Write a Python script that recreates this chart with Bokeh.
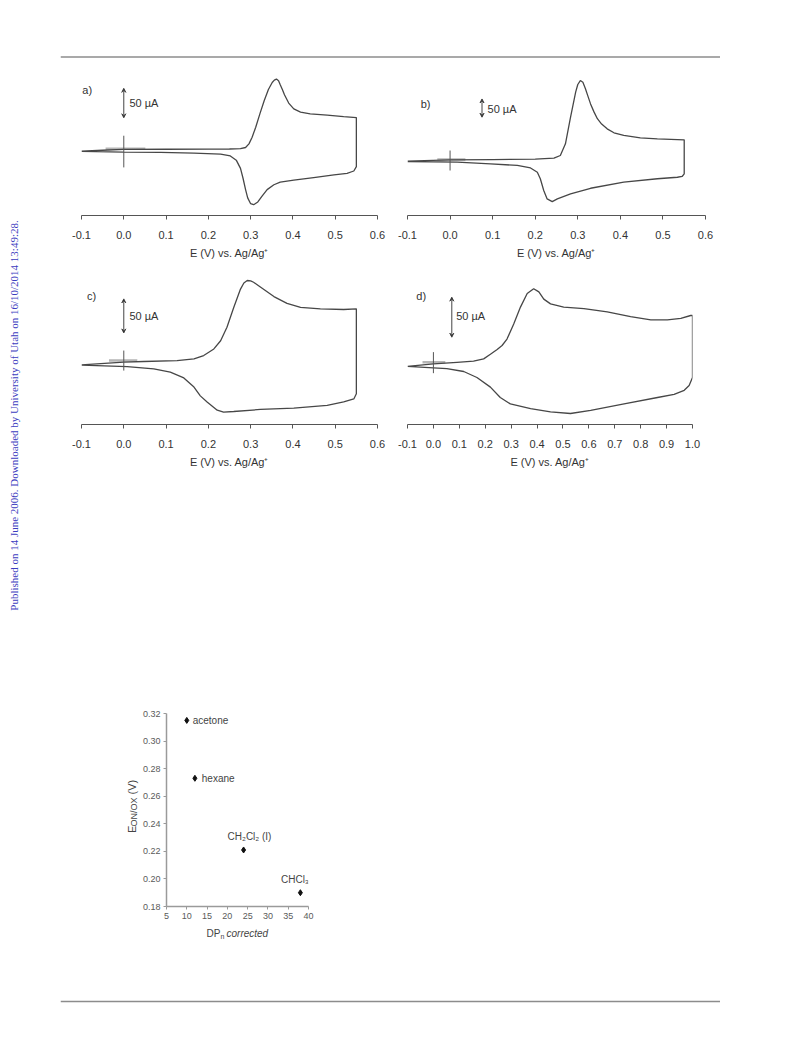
import math
from bokeh.plotting import figure
from bokeh.models import Range1d, FixedTicker, PrintfTickFormatter, Span, Label, Arrow, VeeHead, Spacer
from bokeh.layouts import row, column
from bokeh.embed import file_html
from bokeh.resources import INLINE

# ---------------- data: cyclic voltammograms (E in V vs Ag/Ag+, I in uA) ----------------
a_fwd_E = [-0.10, -0.05, 0.00, 0.10, 0.20, 0.250, 0.276, 0.288, 0.296, 0.3035, 0.312, 0.322, 0.332, 0.342, 0.351, 0.356, 0.361,
           0.366, 0.370, 0.375, 0.380, 0.390, 0.402, 0.418, 0.441, 0.481, 0.520, 0.550]
a_fwd_I = [-0.8, 0.8, 2.2, 2.5, 2.8, 3.0, 3.5, 5.5, 11.7, 22.8, 40, 63, 85, 104, 116, 120, 121.7,
           119, 112, 104, 95, 81, 71, 65.6, 62.8, 60.6, 58, 56.4]
a_rev_E = [0.550, 0.544, 0.528, 0.497, 0.449, 0.402, 0.370, 0.355, 0.339, 0.327, 0.317, 0.307, 0.300, 0.293, 0.288,
           0.282, 0.276, 0.266, 0.252, 0.229, 0.166, 0.087, 0.000, -0.100]
a_rev_I = [-27, -34.4, -38.3, -41, -45.6, -50, -53.3, -57.8, -66, -77, -87, -91.7, -90, -80, -66,
           -46.7, -30, -16, -8.9, -5.6, -3.9, -2.8, -2.2, -1.1]

b_fwd_E = [-0.10, 0.00, 0.10, 0.20, 0.244, 0.259, 0.271, 0.283, 0.295, 0.300, 0.306, 0.312, 0.318, 0.323, 0.330, 0.338,
           0.346, 0.356, 0.369, 0.385, 0.408, 0.447, 0.487, 0.550]
b_fwd_I = [-1.8, 1.75, 2.6, 3.5, 6.1, 13.2, 44, 114, 180, 200, 210.5, 206, 189, 172, 149, 128,
           110, 96, 83.3, 73, 66, 59.6, 57, 54.4]
b_rev_E = [0.550, 0.545, 0.534, 0.487, 0.408, 0.330, 0.283, 0.252, 0.240, 0.228, 0.220, 0.212, 0.205, 0.189, 0.158,
           0.095, 0.017, -0.100]
b_rev_I = [-35, -42, -44, -48, -57, -73, -88, -101, -108, -101, -79, -48, -31, -19.6, -13,
           -8.8, -4.4, -2.6]

c_fwd_E = [-0.10, 0.000, 0.047, 0.126, 0.166, 0.189, 0.213, 0.229, 0.244, 0.260, 0.276, 0.284, 0.292, 0.300, 0.307, 0.323,
           0.355, 0.386, 0.418, 0.465, 0.520, 0.550]
c_fwd_I = [-2.5, 1.5, 2.5, 3.9, 6.4, 11.3, 21, 33, 53, 82, 109, 118, 121.6, 121, 119, 112,
           98, 88, 82, 80, 79, 80]
c_rev_E = [0.550, 0.544, 0.520, 0.481, 0.402, 0.323, 0.260, 0.236, 0.221, 0.197, 0.181, 0.166, 0.142, 0.110, 0.071,
           0.008, -0.100]
c_rev_I = [-45, -52.5, -57, -62, -66, -68, -71, -72, -69, -57, -48, -35, -21.6, -13, -8.3,
           -4.9, -2.9]

d_fwd_E = [-0.10, 0.000, 0.091, 0.155, 0.194, 0.220, 0.246, 0.265, 0.284, 0.310, 0.336, 0.362, 0.387, 0.407, 0.426,
           0.452, 0.503, 0.581, 0.671, 0.761, 0.839, 0.903, 0.955, 0.993, 1.000]
d_fwd_I = [-1, 2, 4, 5.4, 8.3, 14, 20, 25, 33, 52, 73, 90, 96, 92, 83,
           77, 73, 71, 67, 61, 57, 57, 59, 62.5, 62.5]
d_rev_E = [1.000, 0.987, 0.968, 0.929, 0.865, 0.736, 0.607, 0.529, 0.452, 0.375, 0.297, 0.258, 0.220, 0.168, 0.117,
           0.052, 0.000, -0.100]
d_rev_I = [-15, -25, -31, -36, -40, -48, -56, -60, -58, -54, -48, -40, -27, -15, -7.5,
           -4, -3, -1]

# zero-current marker (cross) and start-potential bar of each panel: [E, I_low, I_high], [E0, E1, I]
a_cross = [0.0, -28.3, 25.5]
a_bar = [-0.043, 0.051, 3.3]
b_cross = [0.0, -26.3, 26.3]
b_bar = [-0.030, 0.036, 2.6]
c_cross = [0.0, -10.8, 18.6]
c_bar = [-0.035, 0.032, 3.9]
d_cross = [0.0, -9.6, 16.7]
d_bar = [-0.042, 0.046, 4.2]

# 50 uA scale bars: [E, I_low, I_high]
a_scale = [0.0, 56.0, 106.0]
b_scale = [0.075, 114.0, 162.0]
c_scale = [0.0, 44.6, 94.6]
d_scale = [0.071, 35.4, 85.4]

ticks_06 = [-0.1, 0.0, 0.1, 0.2, 0.3, 0.4, 0.5, 0.6]
ticks_10 = [-0.1, 0.0, 0.1, 0.2, 0.3, 0.4, 0.5, 0.6, 0.7, 0.8, 0.9, 1.0]

# ---------------- data: onset potential vs DPn ----------------
solvents = ["acetone", "hexane", "CH\u2082Cl\u2082 (I)", "CHCl\u2083"]
dpn = [10, 12, 24, 38]
e_onox = [0.315, 0.273, 0.221, 0.190]
dpn_ticks = [5, 10, 15, 20, 25, 30, 35, 40]
e_ticks = [0.18, 0.20, 0.22, 0.24, 0.26, 0.28, 0.30, 0.32]

FONT = "Liberation Sans"
LINE = "#474747"
TXT = "#333333"


def make_cv(E_fwd, I_fwd, E_rev, I_rev, xmax, xticks, yr, w, h, bl, br, bb,
            cross, bar, scale, letter, letter_pos, scale_lbl_pos):
    p = figure(width=w, height=h, x_range=Range1d(-0.1, xmax), y_range=Range1d(*yr),
               min_border_left=bl, min_border_right=br, min_border_top=0, min_border_bottom=bb,
               y_axis_location=None, toolbar_location=None, output_backend="svg")
    p.outline_line_color = None
    p.grid.visible = False
    p.background_fill_color = "white"
    p.border_fill_color = "white"
    ax = p.xaxis[0]
    ax.ticker = FixedTicker(ticks=xticks)
    ax.formatter = PrintfTickFormatter(format="%.1f")
    ax.axis_line_color = "#555555"
    ax.axis_line_width = 1
    ax.major_tick_line_color = "#555555"
    ax.major_tick_out = 4
    ax.major_tick_in = 0
    ax.minor_tick_line_color = None
    ax.major_label_text_font = FONT
    ax.major_label_text_font_size = "11px"
    ax.major_label_text_color = TXT
    ax.major_label_standoff = 11
    ax.axis_label = "E (V) vs. Ag/Ag\u207a"
    ax.axis_label_text_font = FONT
    ax.axis_label_text_font_size = "11px"
    ax.axis_label_text_font_style = "normal"
    ax.axis_label_text_color = TXT
    ax.axis_label_standoff = 5

    # start-potential bar (light grey) and zero-current cross
    p.segment(x0=[bar[0]], y0=[bar[2]], x1=[bar[1]], y1=[bar[2]], line_color="#b5b5b5", line_width=2.5)
    p.line(E_fwd + E_rev, I_fwd + I_rev, line_color=LINE, line_width=1.3)
    p.segment(x0=[cross[0]], y0=[cross[1]], x1=[cross[0]], y1=[cross[2]], line_color="#555555", line_width=1)

    # 50 uA scale bar
    p.add_layout(Arrow(x_start=scale[0], y_start=scale[1], x_end=scale[0], y_end=scale[2],
                       line_color="#444444", line_width=1,
                       start=VeeHead(size=4, line_color="#444444", line_width=1),
                       end=VeeHead(size=4, line_color="#444444", line_width=1)))
    p.add_layout(Label(x=scale_lbl_pos[0], y=scale_lbl_pos[1], text="50 \u00b5A", text_font=FONT,
                       text_font_size="11px", text_color=TXT, text_align="left", text_baseline="middle"))
    p.add_layout(Label(x=letter_pos[0], y=letter_pos[1], text=letter, text_font=FONT,
                       text_font_size="11px", text_color=TXT, text_align="left", text_baseline="middle"))
    return p


fa = make_cv(a_fwd_E, a_fwd_I, a_rev_E, a_rev_I, 0.6, ticks_06, (-110.0, 153.3), 330, 206, 21, 13, 48,
             a_cross, a_bar, a_scale, "a)", (-0.098, 103.0), (0.0135, 81.0))
fb = make_cv(b_fwd_E, b_fwd_I, b_rev_E, b_rev_I, 0.6, ticks_06, (-144.7, 263.2), 330, 206, 17, 15, 51,
             b_cross, b_bar, b_scale, "b)", (-0.069, 149.0), (0.088, 136.0))
fc = make_cv(c_fwd_E, c_fwd_I, c_rev_E, c_rev_I, 0.6, ticks_06, (-90.1, 142.2), 330, 206, 21, 13, 48,
             c_cross, c_bar, c_scale, "c)", (-0.087, 99.5), (0.0135, 69.6))
fd = make_cv(d_fwd_E, d_fwd_I, d_rev_E, d_rev_I, 1.0, ticks_10, (-73.75, 123.75), 330, 206, 17, 28, 48,
             d_cross, d_bar, d_scale, "d)", (-0.066, 87.5), (0.088, 62.5))

# ---------------- scatter plot ----------------
X0, X1, Y0, Y1 = 5.0, 40.0, 0.18, 0.32
FW, FH = 144.0, 193.0


def dx(px):
    return px * (X1 - X0) / FW


def dy(px):
    return px * (Y1 - Y0) / FH


fs = figure(width=191, height=223, x_range=Range1d(X0, X1), y_range=Range1d(Y0, Y1),
            min_border_left=25, min_border_right=22, min_border_top=11, min_border_bottom=19,
            toolbar_location=None, output_backend="svg")
fs.outline_line_color = None
fs.grid.visible = False
for ax, tk, fmt in ((fs.xaxis[0], dpn_ticks, "%d"), (fs.yaxis[0], e_ticks, "%.2f")):
    ax.ticker = FixedTicker(ticks=tk)
    ax.formatter = PrintfTickFormatter(format=fmt)
    ax.axis_line_color = "#9a9a9a"
    ax.axis_line_width = 1.5
    ax.major_tick_line_color = "#9a9a9a"
    ax.major_tick_out = 3
    ax.major_tick_in = 0
    ax.minor_tick_line_color = None
    ax.major_label_text_font = FONT
    ax.major_label_text_font_size = "9px"
    ax.major_label_text_color = "#5a5a5a"
    ax.major_label_standoff = 3

fs.scatter(dpn, e_onox, marker="diamond", size=6, fill_color="#111111", line_color="#111111")

# point labels
PL = dict(text_font=FONT, text_font_size="10px", text_color="#444444")
fs.add_layout(Label(x=dpn[0] + dx(6), y=e_onox[0], text=solvents[0], text_align="left", text_baseline="middle", **PL))
fs.add_layout(Label(x=dpn[1] + dx(7), y=e_onox[1], text=solvents[1], text_align="left", text_baseline="middle", **PL))
fs.add_layout(Label(x=dpn[2] + dx(6), y=e_onox[2] + dy(8), text=solvents[2], text_align="center",
                    text_baseline="bottom", **PL))
fs.add_layout(Label(x=dpn[3] - dx(5.5), y=e_onox[3] + dy(8), text=solvents[3], text_align="center",
                    text_baseline="bottom", **PL))


# ---------------- blank panels for page furniture and axis titles ----------------
def blank(w, h):
    f = figure(width=w, height=h, x_range=Range1d(0, w), y_range=Range1d(0, h), min_border=0,
               x_axis_location=None, y_axis_location=None, toolbar_location=None, output_backend="svg")
    f.outline_line_color = None
    f.grid.visible = False
    return f


lab = dict(text_font=FONT, text_color="#444444", text_baseline="middle", text_align="left")

# y title: E_ON/OX (V)  (panel spans page x 118..139, y 702..925)
ytl = blank(21, 223)
ytl.add_layout(Label(x=13, y=85, text="E", text_font_size="11px", angle=math.pi / 2, **lab))
ytl.add_layout(Label(x=15.5, y=92.5, text="ON/OX", text_font_size="9px", angle=math.pi / 2, **lab))
ytl.add_layout(Label(x=13, y=129.5, text="(V)", text_font_size="11px", angle=math.pi / 2, **lab))

# x title: DP_n corrected  (panel spans page x 118..330, y 925..947)
xtl = blank(212, 22)
xtl.add_layout(Label(x=88, y=14, text="DP", text_font_size="10px", **lab))
xtl.add_layout(Label(x=102, y=11, text="n", text_font_size="7px", **lab))
xtl.add_layout(Label(x=108, y=14, text="corrected", text_font_size="10px", text_font_style="italic", **lab))

side = blank(60, 1015)
side.add_layout(Label(x=13, y=600, text="Published on 14 June 2006. Downloaded by University of Utah on 16/10/2014 13:49:28.",
                      angle=math.pi / 2, text_align="center", text_baseline="middle",
                      text_font="Liberation Serif", text_font_size="11px", text_color="#3c3cc0"))

hdr = blank(660, 60)
hdr.add_layout(Span(location=3.5, dimension="width", line_color="#8c8c8c", line_width=1.3))

ftr = blank(660, 68)
ftr.add_layout(Span(location=14, dimension="width", line_color="#8c8c8c", line_width=1.3))

scatter_block = row(Spacer(width=58, height=245), column(row(ytl, fs), xtl))
right = column(hdr, row(fa, fb), row(fc, fd), Spacer(width=660, height=230), scatter_block, ftr)
page = row(side, right)

open("out.html", "w").write(file_html(page, INLINE))
